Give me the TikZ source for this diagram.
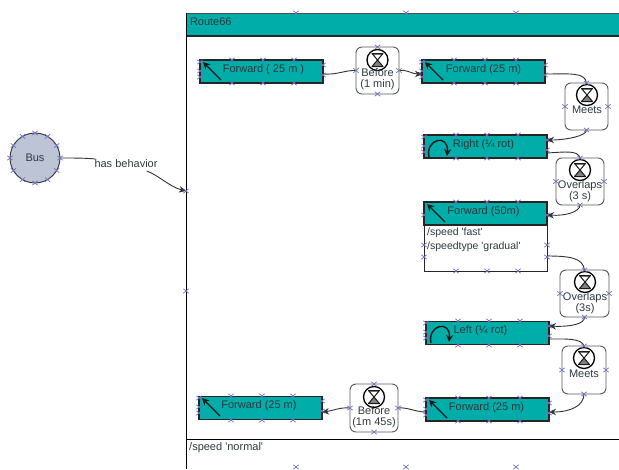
\documentclass[tikz,border=0pt]{standalone}
\usepackage{fontspec}
\setmainfont{Liberation Sans}
\usetikzlibrary{arrows.meta,calc}
\definecolor{tealbox}{HTML}{00ADA8}
\definecolor{busfill}{HTML}{BCC4D6}
\definecolor{markc}{HTML}{7070BC}
\definecolor{txt}{HTML}{2E3A3E}
\tikzset{
  actbox/.style={draw=black!85,line width=1.1pt,fill=tealbox,minimum width=123pt,inner ysep=4.5pt,inner xsep=0pt,
    text height=7.5pt,text depth=6.5pt,text=txt,font=\fontsize{11}{13}\selectfont,outer sep=0pt},
  statebox/.style={draw=black!65,line width=0.9pt,rounded corners=6pt,fill=white,outer sep=0pt,inner sep=0pt},
  lbl/.style={text=txt,font=\fontsize{11}{11.3}\selectfont,align=center,inner sep=0pt},
  xmark/.style={draw=markc,line width=0.7pt},
  flow/.style={draw=black!80,line width=0.9pt},
  flowarrow/.style={flow,-{Stealth[length=7pt,width=6.5pt]}},
  icon/.style={draw=black!90,line width=1.4pt,-{Stealth[length=7pt,width=7pt]}},
}
\newcommand{\xmk}[2]{\draw[xmark] ({#1-2.6},{#2-2.2})--({#1+2.6},{#2+2.2}) ({#1-2.6},{#2+2.2})--({#1+2.6},{#2-2.2});}
\newcommand{\bmk}[4]{%
  \foreach \dx in {32,63,94}{\xmk{#1+\dx}{#2}\xmk{#1+\dx}{#4}}
  \foreach \dy in {2,11,17}{\xmk{#1}{#2+\dy}}
  \foreach \dy in {5,15}{\xmk{#3}{#2+\dy}}}
\newcommand{\smk}[4]{%
  \xmk{(#1+#3)/2}{#2}\xmk{(#1+#3)/2}{#4}\xmk{#1}{(#2+#4)/2}\xmk{#3}{(#2+#4)/2}}
\newcommand{\clockicon}[2]{%
  \draw[black,line width=1.3pt,fill=white] (#1,#2) circle[radius=10.5];
  \filldraw[black!90,line width=1pt,fill=black!50,line join=round] (#1-5.5,#2-6.5)--(#1+5.5,#2-6.5)--(#1-5.5,#2+6.5)--(#1+5.5,#2+6.5)--cycle;
  \fill[white] (#1-3,#2-4.8)--(#1+3,#2-4.8)--(#1,#2-1)--cycle;}
\newcommand{\arrowicon}[2]{\draw[icon] (#1+21,#2+20)--(#1+3,#2+2);}
\newcommand{\roticon}[2]{\draw[icon] (#1+5,#2+22) .. controls (#1+1,#2+4) and (#1+25,#2-2) .. (#1+23,#2+21);}
\begin{document}
\begin{tikzpicture}[x=1pt,y=-1pt]
\useasboundingbox (0,0) rectangle (619,469);
% behaviour frame
\node[fill=tealbox,minimum width=433pt,minimum height=23pt,inner sep=0pt,outer sep=0pt,anchor=north west,
      text width=429pt,align=left,text height=12pt,text depth=11pt,text=txt,font=\fontsize{11}{12}\selectfont] (route) at (186,13) {\hspace*{2pt}Route66};
\draw[black!70,line width=0.9pt] (186,13)--(619,13);
\draw[black!85,line width=1.1pt] (186,36)--(619,36);
\draw[black,line width=1pt] (186,13)--(186,469);
\draw[black,line width=1pt] (186,439)--(619,439);
\coordinate (routein) at (186,191);
\node[lbl,anchor=west] (speed) at (189,448) {/speed \textquotesingle normal\textquotesingle};
% Bus
\node[circle,draw=black!80,line width=0.9pt,fill=busfill,minimum size=50pt,inner sep=0pt,text=txt,font=\fontsize{11}{13}\selectfont] (bus) at (35,158) {Bus};
\node[lbl,fill=none] (hb) at (126,164) {has behavior};
\draw[flow] (bus.east) .. controls (74,158) and (86,158) .. ($(hb.west)+(1,-5)$);
\draw[flowarrow] ($(hb.east)+(-11,7)$) .. controls (158,175) and (170,187) .. (routein);
% activities
\node[actbox] (f1) at (261.5,71.5) {\hspace*{4pt}Forward ( 25 m )};
\node[actbox] (f2) at (483.5,71.5) {Forward (25 m)};
\node[actbox] (rt) at (485.5,146.5) {\hspace*{-4pt}Right (¼ rot)};
\node[draw=black!85,line width=1pt,fill=white,minimum width=123pt,minimum height=69pt,inner sep=0pt,outer sep=0pt,anchor=north] (f3b) at (485.5,202) {};
\node[actbox] (f3) at (485.5,213.5) {\hspace*{-4pt}Forward (50m)};
\node[lbl,anchor=north west,align=left,font=\fontsize{10.5}{14}\selectfont] (f3t) at (427,228) {/speed \textquotesingle fast\textquotesingle\\/speedtype \textquotesingle gradual\textquotesingle};
\node[actbox] (lf) at (487.5,333) {\hspace*{-14pt}Left (¼ rot)};
\node[actbox] (f4) at (487.5,409.5) {\hspace*{-2pt}Forward (25 m)};
\node[actbox] (f5) at (260.5,408) {\hspace*{-3pt}Forward (25 m)};
% constraints
\node[statebox,minimum width=43pt,minimum height=47pt] (b1) at (377.5,70.5) {};
\node[statebox,minimum width=43pt,minimum height=47pt] (m1) at (586.5,106.5) {};
\node[statebox,minimum width=48pt,minimum height=47pt] (o1) at (580,181.5) {};
\node[statebox,minimum width=49pt,minimum height=47pt] (o2) at (584.5,293.5) {};
\node[statebox,minimum width=44pt,minimum height=48pt] (m2) at (584,370) {};
\node[statebox,minimum width=48pt,minimum height=48pt] (b2) at (374,408) {};
\clockicon{377.5}{60}\clockicon{587}{95}\clockicon{580}{170}\clockicon{585}{282}\clockicon{584}{358}\clockicon{374}{397}
\node[lbl,anchor=north] (b1t) at (377.5,68.5) {Before\\(1 min)};
\node[lbl,anchor=north] (m1t) at (587,106) {Meets};
\node[lbl,anchor=north] (o1t) at (580,180) {Overlaps\\(3 s)};
\node[lbl,anchor=north] (o2t) at (585,292) {Overlaps\\(3s)};
\node[lbl,anchor=north] (m2t) at (584,370) {Meets};
\node[lbl,anchor=north] (b2t) at (374,406) {Before\\(1m 45s)};
% icons
\arrowicon{200}{60}\arrowicon{422}{60}\arrowicon{424}{202}\arrowicon{426}{398}\arrowicon{199}{396}
\roticon{424}{135}\roticon{426}{321}
% flows
\draw[flow] ($(f1.east)+(0,2.5)$) .. controls (338,75) and (345,70) .. (b1.west);
\draw[flowarrow] (b1.east) .. controls (406,69) and (412,74) .. ($(f2.west)+(0,2.5)$);
\draw[flow] ($(f2.east)+(0,2.5)$) .. controls (570,74) and (585,72) .. (m1.north);
\draw[flowarrow] (m1.south) .. controls (587,136) and (565,140) .. ($(rt.east)+(0,-6.5)$);
\draw[flow] ($(rt.east)+(0,6.5)$) .. controls (565,152) and (578,150) .. (o1.north);
\draw[flowarrow] (o1.south) .. controls (580,212) and (565,216) .. ($(f3.east)+(0,1.5)$);
\draw[flow] ($(f3b.east)+(0,19.5)$) .. controls (570,256) and (583,258) .. (o2.north);
\draw[flowarrow] (o2.south) .. controls (585,324) and (570,327) .. ($(lf.east)+(0,-7)$);
\draw[flow] ($(lf.east)+(0,6)$) .. controls (565,339) and (582,338) .. (m2.north);
\draw[flowarrow] (m2.south) .. controls (584,406) and (570,412) .. ($(f4.east)+(0,2.5)$);
\draw[flow] ($(f4.west)+(0,2.5)$) .. controls (415,412) and (408,407) .. (b2.east);
\draw[flowarrow] (b2.west) .. controls (340,407) and (332,411) .. ($(f5.east)+(0,4)$);
% anchor markers
\foreach \a in {0,30,...,330}{\xmk{35+25*cos(\a)}{158+25*sin(\a)}}
\foreach \x in {296,406,516}{\xmk{\x}{13}\xmk{\x}{467}}
\xmk{186}{191}\xmk{186}{291}
\bmk{200}{60}{323}{83}\bmk{422}{60}{545}{83}\bmk{424}{135}{547}{158}
\bmk{426}{321}{549}{345}\bmk{426}{398}{549}{421}\bmk{199}{396}{322}{420}
\foreach \x in {456,487,518}{\xmk{\x}{202}\xmk{\x}{271}}
\foreach \y in {215,245,257}{\xmk{424}{\y}\xmk{547}{\y}}
\smk{356}{47}{399}{94}\smk{565}{83}{608}{130}\smk{556}{158}{604}{205}
\smk{560}{270}{609}{317}\smk{562}{346}{606}{394}\smk{350}{384}{398}{432}
\end{tikzpicture}
\end{document}
